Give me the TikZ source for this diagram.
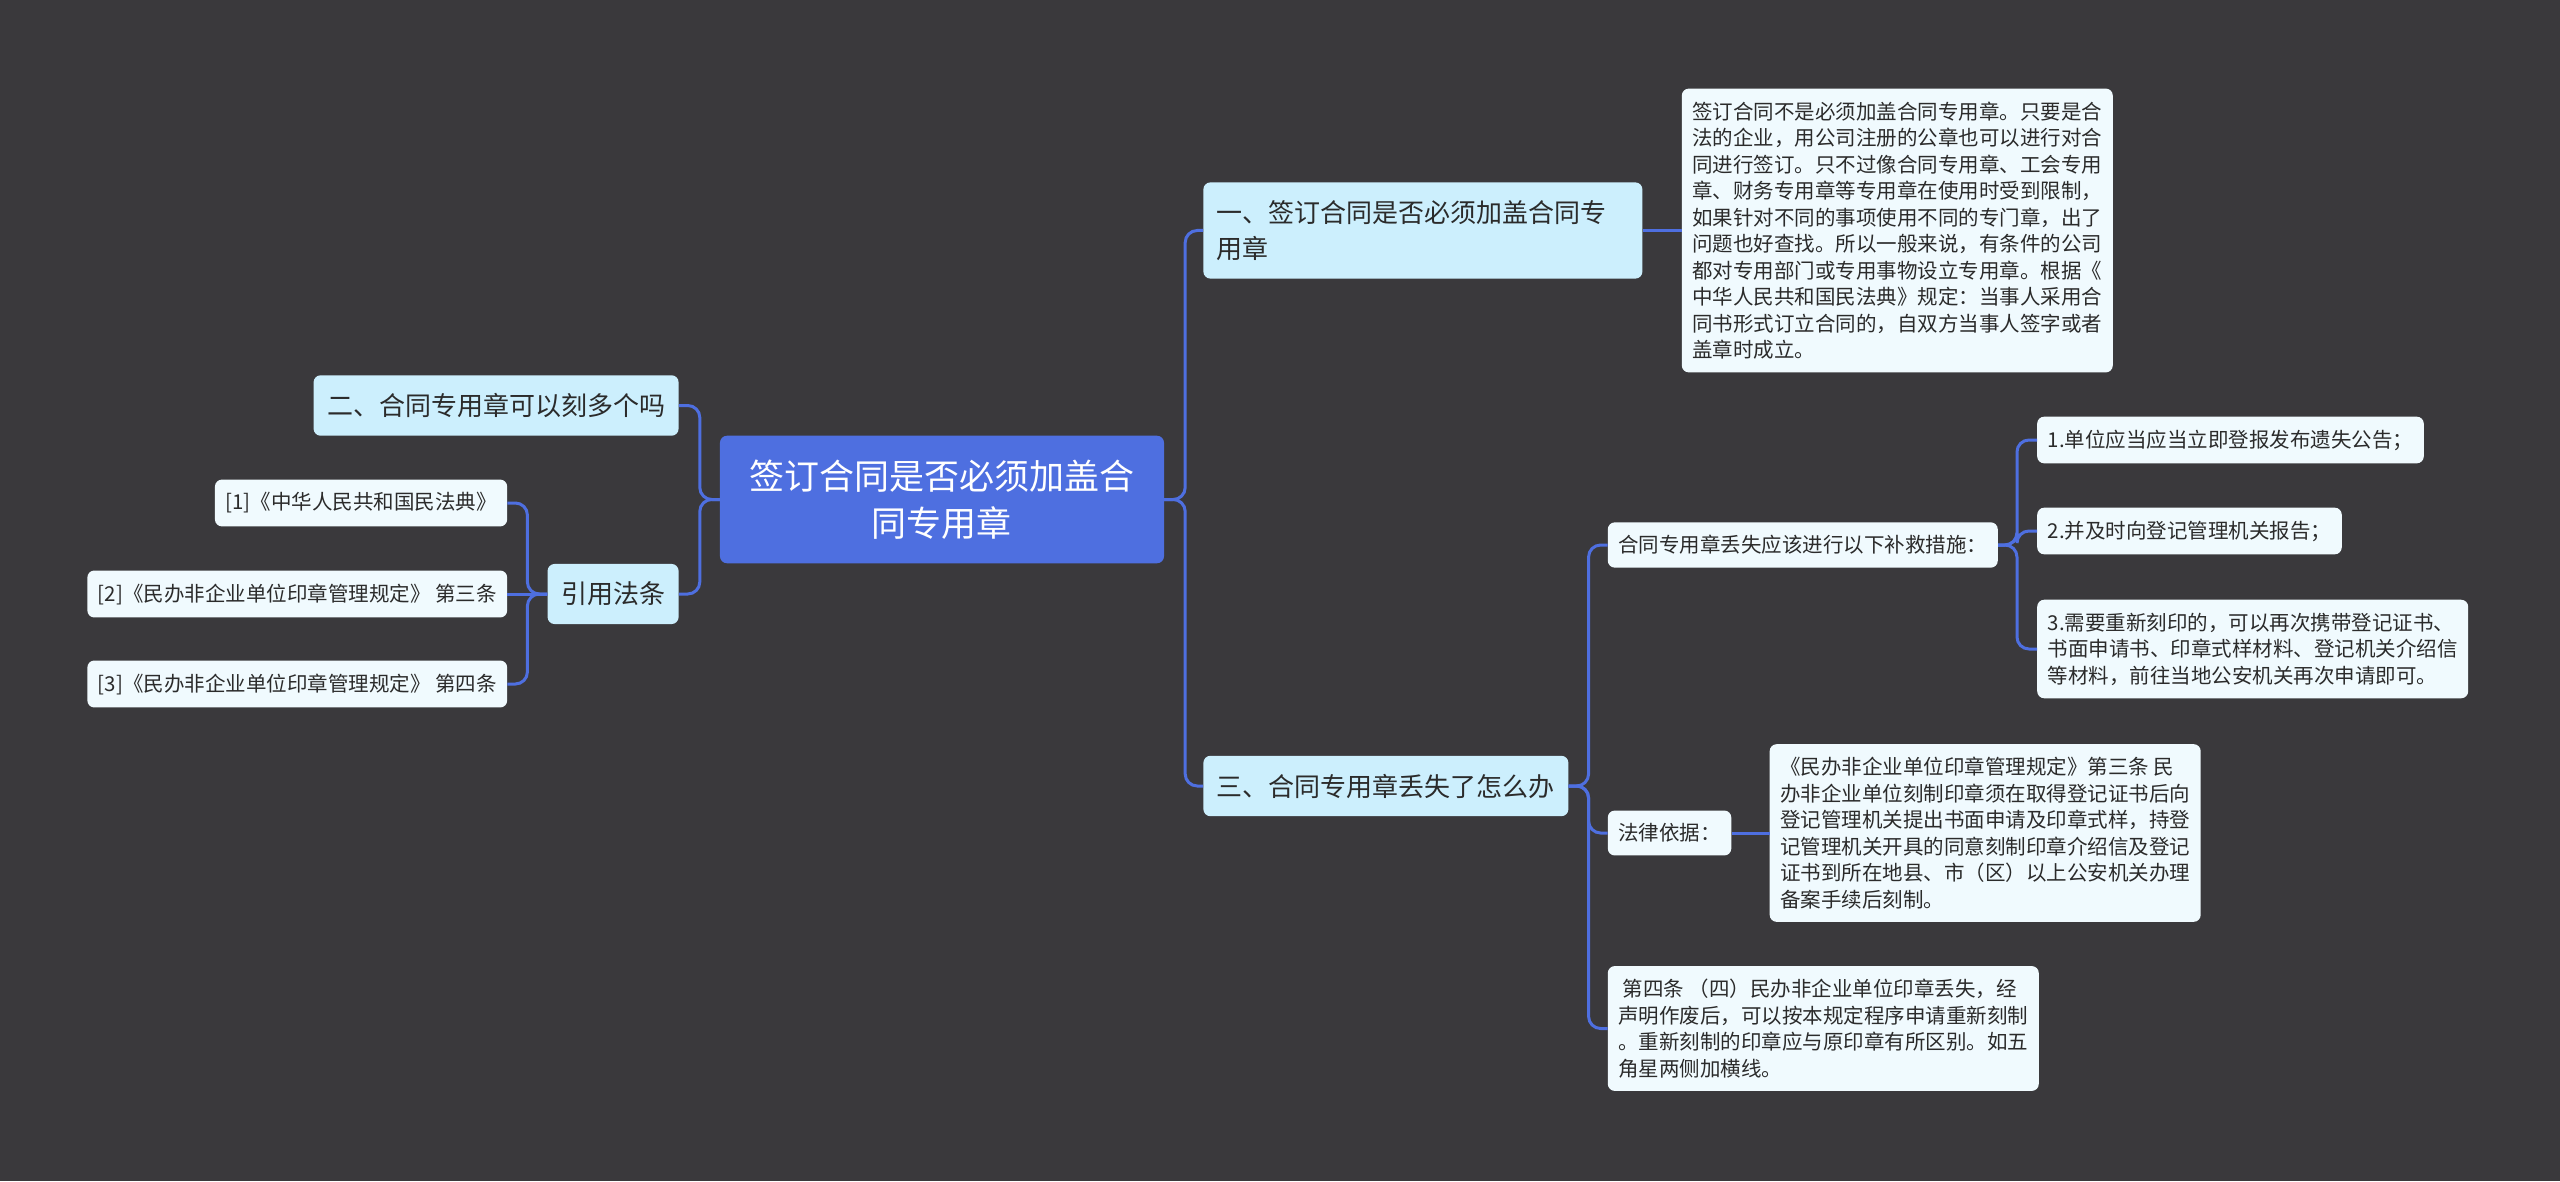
\documentclass[tikz,border=0pt]{standalone}
\usepackage{fontspec}
\setmainfont{Noto Sans CJK SC}
\usetikzlibrary{positioning}
\definecolor{bgc}{HTML}{3A393C}
\definecolor{rootc}{HTML}{4E6FE0}
\definecolor{branchc}{HTML}{CCEFFD}
\definecolor{leafc}{HTML}{F0FAFE}
\definecolor{inkc}{HTML}{2B2B2B}

\begin{document}
\begin{tikzpicture}[
  box/.style={rounded corners=7pt,inner xsep=10.5pt,inner ysep=13pt,text=inkc,align=left},
  root/.style={box,fill=rootc,text=white,align=center,inner xsep=29.5pt,inner ysep=24pt,font=\fontsize{35}{47}\selectfont},
  branch/.style={box,fill=branchc,inner xsep=13.5pt,inner ysep=18pt,font=\fontsize{26}{36}\selectfont},
  leaf/.style={box,fill=leafc,font=\fontsize{20.5}{26.5}\selectfont},
  link/.style={draw=rootc,line width=3pt,rounded corners=12pt}
]
\useasboundingbox (-942pt,499.5pt) rectangle (1618pt,-681.5pt);
\fill[bgc] (-942pt,499.5pt) rectangle (1618pt,-681.5pt);

\node[root] (root) at (0,0) {签订合同是否必须加盖合\\同专用章};

% right side
\node[branch,text width=412pt,right=39pt of root,yshift=269pt] (q1) {一、签订合同是否必须加盖合同专\\用章};
\node[leaf,right=39pt of q1] (ans1) {签订合同不是必须加盖合同专用章。只要是合\\法的企业，用公司注册的公章也可以进行对合\\同进行签订。只不过像合同专用章、工会专用\\章、财务专用章等专用章在使用时受到限制，\\如果针对不同的事项使用不同的专门章，出了\\问题也好查找。所以一般来说，有条件的公司\\都对专用部门或专用事物设立专用章。根据《\\中华人民共和国民法典》规定：当事人采用合\\同书形式订立合同的，自双方当事人签字或者\\盖章时成立。};
\node[branch,right=39pt of root,yshift=-286.5pt] (q3) {三、合同专用章丢失了怎么办};
\node[leaf,right=39pt of q3,yshift=241pt] (fix) {合同专用章丢失应该进行以下补救措施：};
\node[leaf,right=39pt of fix,yshift=105pt] (fix1) {1.单位应当应当立即登报发布遗失公告；};
\node[leaf,right=39pt of fix,yshift=14pt] (fix2) {2.并及时向登记管理机关报告；};
\node[leaf,right=39pt of fix,yshift=-104pt] (fix3) {3.需要重新刻印的，可以再次携带登记证书、\\书面申请书、印章式样材料、登记机关介绍信\\等材料，前往当地公安机关再次申请即可。};
\node[leaf,right=39pt of q3,yshift=-47pt] (basis) {法律依据：};
\node[leaf,right=38pt of basis] (art3) {《民办非企业单位印章管理规定》第三条 民\\办非企业单位刻制印章须在取得登记证书后向\\登记管理机关提出书面申请及印章式样，持登\\记管理机关开具的同意刻制印章介绍信及登记\\证书到所在地县、市（区）以上公安机关办理\\备案手续后刻制。};
\node[leaf,right=39pt of q3,yshift=-242.5pt] (art4) {~第四条 （四）民办非企业单位印章丢失，经\\声明作废后，可以按本规定程序申请重新刻制\\。重新刻制的印章应与原印章有所区别。如五\\角星两侧加横线。};

% left side
\node[branch,left=41pt of root,yshift=94pt] (q2) {二、合同专用章可以刻多个吗};
\node[branch,left=41pt of root,yshift=-94.5pt] (cite) {引用法条};
\node[leaf,left=40pt of cite,yshift=91pt] (ref1) {[1]《中华人民共和国民法典》};
\node[leaf,left=40pt of cite] (ref2) {[2]《民办非企业单位印章管理规定》 第三条};
\node[leaf,left=40pt of cite,yshift=-90pt] (ref3) {[3]《民办非企业单位印章管理规定》 第四条};

% connectors
\draw[link] (root.east) -- ++(21pt,0) |- (q1.west);
\draw[link] (root.east) -- ++(21pt,0) |- (q3.west);
\draw[link] (q1) -- (ans1);
\draw[link] (q3.east) -- ++(20pt,0) |- (fix.west);
\draw[link] (q3.east) -- ++(20pt,0) |- (basis.west);
\draw[link] (q3.east) -- ++(20pt,0) |- (art4.west);
\draw[link] (fix.east) -- ++(19pt,0) |- (fix1.west);
\draw[link] (fix.east) -- ++(19pt,0) |- (fix2.west);
\draw[link] (fix.east) -- ++(19pt,0) |- (fix3.west);
\draw[link] (basis) -- (art3);
\draw[link] (root.west) -- ++(-20pt,0) |- (q2.east);
\draw[link] (root.west) -- ++(-20pt,0) |- (cite.east);
\draw[link] (cite.west) -- ++(-20pt,0) |- (ref1.east);
\draw[link] (cite) -- (ref2);
\draw[link] (cite.west) -- ++(-20pt,0) |- (ref3.east);
\end{tikzpicture}
\end{document}
